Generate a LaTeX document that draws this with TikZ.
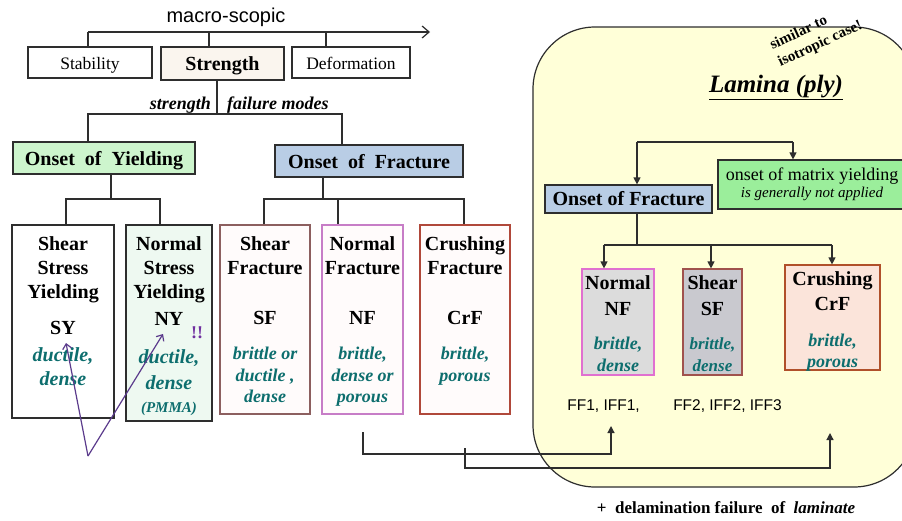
\documentclass[tikz,border=0pt]{standalone}
\usepackage{fontspec}
\setmainfont{Liberation Serif}
\newfontfamily\arialf{Liberation Sans}
\usetikzlibrary{arrows.meta}
\definecolor{linec}{HTML}{2E2E2E}
\definecolor{tealc}{HTML}{0D6E6E}
\definecolor{purp}{HTML}{5B3B8C}
\definecolor{bang}{HTML}{7030A0}
\definecolor{strfill}{HTML}{FAF5EE}
\definecolor{yieldg}{HTML}{CDF5CD}
\definecolor{fracb}{HTML}{B9CDE5}
\definecolor{nyfill}{HTML}{EEF9F1}
\definecolor{sfbord}{HTML}{8C5F5F}
\definecolor{nfbord}{HTML}{C77DC7}
\definecolor{crbord}{HTML}{B0483A}
\definecolor{pinkfill}{HTML}{FFFBFB}
\definecolor{lamfill}{HTML}{FFFFD8}
\definecolor{matg}{HTML}{9BEE9B}
\definecolor{lnfill}{HTML}{DCDCDC}
\definecolor{lnbord}{HTML}{E070D0}
\definecolor{lsfill}{HTML}{C9C9CF}
\definecolor{lsbord}{HTML}{A0524D}
\definecolor{lcfill}{HTML}{FBE4DA}
\definecolor{lcbord}{HTML}{B0502A}
\tikzset{
 ln/.style={draw=linec, line width=1.2pt},
 bx/.style={draw=linec, line width=1.2pt, inner sep=0pt},
 arr/.style={ln, -{Triangle[length=7pt,width=7pt]}},
 parr/.style={draw=purp, line width=1.2pt, -{Straight Barb[length=5pt,width=9pt]}},
 hb/.style={font=\fontsize{20}{24}\selectfont\bfseries, anchor=base, inner sep=0pt},
 ti/.style={font=\fontsize{20}{24}\selectfont\bfseries\itshape, text=tealc, anchor=base, inner sep=0pt},
 ts/.style={font=\fontsize{18}{22}\selectfont\bfseries\itshape, text=tealc, anchor=base, inner sep=0pt},
 rg/.style={font=\fontsize{17.5}{21}\selectfont, anchor=base, inner sep=0pt},
}
\begin{document}
\begin{tikzpicture}[x=1pt,y=-1pt]
\useasboundingbox[fill=white] (0,0) rectangle (902,520);

% lamina background
\node[bx, fill=lamfill, rounded corners=62, minimum width=383, minimum height=460] (lam) at (724.5,257) {};

% top level
\node[font=\arialf\fontsize{20}{24}\selectfont, anchor=base, inner sep=0pt] (macro) at (226,22) {macro-scopic};
\node[bx, fill=white, minimum width=124, minimum height=31] (stab) at (90,62.5) {};
\node[bx, fill=strfill, minimum width=123, minimum height=33] (str) at (222.5,63.5) {};
\node[bx, fill=white, minimum width=118, minimum height=31] (def) at (351,62.5) {};
\node[rg] (stabt) at (90,69) {Stability};
\node[hb] (strt) at (222.5,70.5) {Strength};
\node[rg] (deft) at (351,69) {Deformation};
\coordinate (tA) at (88,32);
\coordinate (tB) at (209,32);
\coordinate (tC) at (326,32);
\coordinate (tE) at (430,32);
\draw[ln, -{Straight Barb[length=7pt,width=12pt]}] (tA) -- (tE);
\draw[ln] (tA) -- (tA |- stab.north);
\draw[ln] (tB) -- (tB |- str.north);
\draw[ln] (tC) -- (tC |- def.north);

% strength failure modes
\node[font=\fontsize{18}{22}\selectfont\bfseries\itshape, anchor=base east, inner sep=0pt] (sfm1) at (211,109) {strength};
\node[font=\fontsize{18}{22}\selectfont\bfseries\itshape, anchor=base west, inner sep=0pt] (sfm2) at (227,109) {failure modes};

% onset boxes
\node[bx, fill=yieldg, minimum width=182, minimum height=32] (oy) at (104,158) {};
\node[hb] (oyt) at (104,165) {Onset\ \ of\ \ Yielding};
\node[bx, fill=fracb, minimum width=188, minimum height=32] (of) at (369,161) {};
\node[hb] (oft) at (369,168) {Onset\ \ of\ \ Fracture};

\coordinate (sm) at (217,114);
\coordinate (b1) at (88,114);
\coordinate (b2) at (342,114);
\draw[ln] (sm |- str.south) -- (sm);
\draw[ln] (b1 |- oy.north) -- (b1) -- (b2) -- (b2 |- of.north);

% left mode boxes
\node[bx, fill=white, minimum width=102, minimum height=193] (sy) at (63,321.5) {};
\node[bx, fill=nyfill, minimum width=86, minimum height=196] (ny) at (169,323) {};
\node[bx, draw=sfbord, fill=pinkfill, minimum width=90, minimum height=189] (sf) at (265,319.5) {};
\node[bx, draw=nfbord, fill=pinkfill, minimum width=81, minimum height=189] (nf) at (362.5,319.5) {};
\node[bx, draw=crbord, fill=pinkfill, minimum width=90, minimum height=189] (crf) at (465,319.5) {};

% yielding branch
\coordinate (y0) at (111,199);
\coordinate (y1) at (66,199);
\coordinate (y2) at (160,199);
\draw[ln] (y0 |- oy.south) -- (y0);
\draw[ln] (y1 |- sy.north) -- (y1) -- (y2) -- (y2 |- ny.north);
% fracture branch
\coordinate (f0) at (323,199);
\coordinate (f1) at (264,199);
\coordinate (f2) at (338,199);
\coordinate (f3) at (464,199);
\draw[ln] (f0 |- of.south) -- (f0);
\draw[ln] (f1 |- sf.north) -- (f1) -- (f3) -- (f3 |- crf.north);
\draw[ln] (f2) -- (f2 |- nf.north);

% SY
\node[hb] (sy1) at (63,250.5) {Shear};
\node[hb] (sy2) at (63,274.5) {Stress};
\node[hb] (sy3) at (63,298.5) {Yielding};
\node[hb] (sy4) at (63,334.5) {SY};
\node[ti] (sy5) at (63,361) {ductile,};
\node[ti] (sy6) at (63,385) {dense};
% NY
\node[hb] (ny1) at (169,250.5) {Normal};
\node[hb] (ny2) at (169,274.5) {Stress};
\node[hb] (ny3) at (169,298.5) {Yielding};
\node[hb] (ny4) at (169,325.5) {NY};
\node[ti] (ny5) at (169,363) {ductile,};
\node[ti] (ny6) at (169,389) {dense};
\node[ti, font=\fontsize{15}{18}\selectfont\bfseries\itshape] (ny7) at (169,412) {(PMMA)};
\node[font=\fontsize{18}{22}\selectfont\bfseries, text=bang, anchor=base, inner sep=0pt] (bangt) at (197,338) {!!};
% SF
\node[hb] (sf1) at (265,250.5) {Shear};
\node[hb] (sf2) at (265,274.5) {Fracture};
\node[hb] (sf3) at (265,324.5) {SF};
\node[ts] (sf4) at (265,359) {brittle or};
\node[ts] (sf5) at (265,381) {ductile ,};
\node[ts] (sf6) at (265,402) {dense};
% NF
\node[hb] (nf1) at (362.5,250.5) {Normal};
\node[hb] (nf2) at (362.5,274.5) {Fracture};
\node[hb] (nf3) at (362.5,324.5) {NF};
\node[ts] (nf4) at (362.5,359) {brittle,};
\node[ts] (nf5) at (362.5,381) {dense or};
\node[ts] (nf6) at (362.5,402) {porous};
% CrF
\node[hb] (cr1) at (465,250.5) {Crushing};
\node[hb] (cr2) at (465,274.5) {Fracture};
\node[hb] (cr3) at (465,324.5) {CrF};
\node[ts] (cr4) at (465,359) {brittle,};
\node[ts] (cr5) at (465,381) {porous};

% purple arrows
\coordinate (pp) at (88,456);
\coordinate (psy) at (66,343);
\coordinate (pny) at (163,334);
\draw[parr] (pp) -- (psy);
\draw[parr] (pp) -- (pny);

% lamina content
\node[font=\fontsize{15}{19}\selectfont\bfseries, align=left, anchor=north west, inner sep=0pt, rotate=25] (sim) at (768,40) {similar to\\isotropic case!};
\node[font=\fontsize{25}{30}\selectfont\bfseries\itshape, anchor=base, inner sep=0pt] (lamt) at (776,92) {\underline{Lamina (ply)}};

\node[bx, fill=fracb, minimum width=167, minimum height=28] (lof) at (628.5,199) {};
\node[hb] (loft) at (628.5,205.5) {Onset of Fracture};
\node[bx, fill=matg, minimum width=186, minimum height=49] (mat) at (811,184.5) {};
\node[font=\fontsize{18}{22}\selectfont, anchor=base, inner sep=0pt] (mat1) at (812,180) {onset of matrix yielding};
\node[font=\fontsize{15}{18}\selectfont\itshape, anchor=base, inner sep=0pt] (mat2) at (812,197.5) {is generally not applied};

\coordinate (lt1) at (637,142);
\coordinate (lt2) at (793,142);
\draw[ln] (lt1) -- (lt2);
\draw[arr] (lt1) -- (lt1 |- lof.north);
\draw[arr] (lt2) -- (lt2 |- mat.north);

\node[bx, draw=lnbord, fill=lnfill, minimum width=72, minimum height=106] (lnb) at (618,322) {};
\node[bx, draw=lsbord, fill=lsfill, minimum width=59, minimum height=106] (lsb) at (712.5,322) {};
\node[bx, draw=lcbord, fill=lcfill, minimum width=95, minimum height=105] (lcb) at (832.5,317.5) {};

\coordinate (lb0) at (637,245);
\coordinate (lb1) at (604,245);
\coordinate (lb2) at (711,245);
\coordinate (lb3) at (832,245);
\draw[ln] (lb0 |- lof.south) -- (lb0);
\draw[ln] (lb1) -- (lb3);
\draw[arr] (lb1) -- (lb1 |- lnb.north);
\draw[arr] (lb2) -- (lb2 |- lsb.north);
\draw[arr] (lb3) -- (lb3 |- lcb.north);

\node[hb] (ln1) at (618,289.5) {Normal};
\node[hb] (ln2) at (618,315.5) {NF};
\node[ts] (ln3) at (618,349) {brittle,};
\node[ts] (ln4) at (618,371) {dense};
\node[hb] (ls1) at (712.5,289.5) {Shear};
\node[hb] (ls2) at (712.5,315.5) {SF};
\node[ts, font=\fontsize{17}{21}\selectfont\bfseries\itshape] (ls3) at (712.5,349) {brittle,};
\node[ts, font=\fontsize{17}{21}\selectfont\bfseries\itshape] (ls4) at (712.5,371) {dense};
\node[hb] (lc1) at (832.5,285.5) {Crushing};
\node[hb] (lc2) at (832.5,310.5) {CrF};
\node[ts] (lc3) at (832.5,346) {brittle,};
\node[ts] (lc4) at (832.5,367) {porous};

\node[font=\arialf\fontsize{15.5}{19}\selectfont, anchor=base, inner sep=0pt] (ff1) at (603.5,410.5) {FF1, IFF1,};
\node[font=\arialf\fontsize{15.5}{19}\selectfont, anchor=base, inner sep=0pt] (ff2) at (727.5,410.5) {FF2, IFF2, IFF3};

% bottom connectors
\coordinate (c1s) at (363,432);
\coordinate (c1e) at (611,426);
\coordinate (c2s) at (465,448);
\coordinate (c2e) at (830,433);
\draw[arr] (c1s) -- ++(0,22) -| (c1e);
\draw[arr] (c2s) -- ++(0,20) -| (c2e);

\node[font=\fontsize{17}{20}\selectfont\bfseries, anchor=base, inner sep=0pt] (delam) at (726,513) {+\ \ delamination failure\ \ of\ \ \textit{laminate}};
\end{tikzpicture}
\end{document}
